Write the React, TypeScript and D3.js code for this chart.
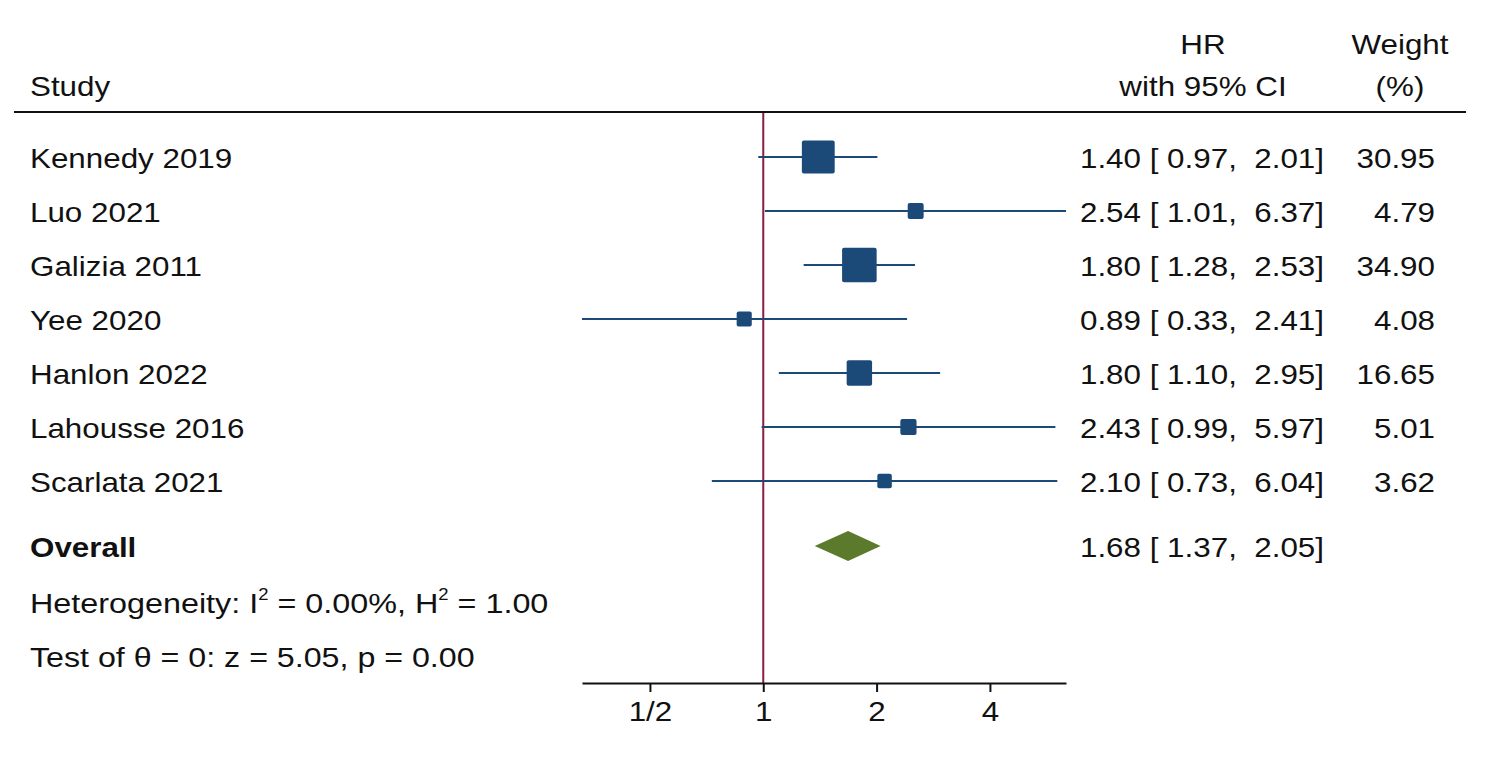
import React, { useRef, useEffect } from "react";
import * as d3 from "d3";

// study rows
const studies = [
  "Kennedy 2019",
  "Luo 2021",
  "Galizia 2011",
  "Yee 2020",
  "Hanlon 2022",
  "Lahousse 2016",
  "Scarlata 2021",
];
const hr = [1.4, 2.54, 1.8, 0.89, 1.8, 2.43, 2.1];
const lower = [0.97, 1.01, 1.28, 0.33, 1.1, 0.99, 0.73];
const upper = [2.01, 6.37, 2.53, 2.41, 2.95, 5.97, 6.04];
const weights = [30.95, 4.79, 34.9, 4.08, 16.65, 5.01, 3.62];

// pooled estimate
const overall = [1.68, 1.37, 2.05];

const tickValues = [0.5, 1, 2, 4];
const tickLabels = ["1/2", "1", "2", "4"];

const FONT = "'Liberation Sans', Arial, sans-serif";
const BLUE = "#1b4a78";
const GREEN = "#5b7a2b";
const RED = "#8c1c46";
const SX = 1.12; // the source image is a bit wider than tall

const fmt = d3.format(".2f");
const ciText = (h: number, lo: number, hi: number) =>
  `${fmt(h)} [ ${fmt(lo)},  ${fmt(hi)}]`;

const App = () => {
  const ref = useRef<SVGSVGElement>(null);

  useEffect(() => {
    const width = 1488;
    const height = 765;
    const svg = d3.select(ref.current);
    svg.selectAll("*").remove();
    svg.attr("width", width).attr("height", height);

    svg.append("rect").attr("width", width).attr("height", height).attr("fill", "#fff");

    const x = d3.scaleLog().domain([0.33, 6.37]).range([582, 1066]);
    const y = d3.scaleLinear().domain([0, studies.length - 1]).range([157, 481]);
    const size = d3.scaleSqrt().domain([0, 35]).range([5, 34.6]);

    const overallY = 546;
    const axisY = 683;
    const hrRight = 1324;
    const wRight = 1435;

    // text placed at (tx, ty), stretched horizontally
    const addText = (g: any, tx: number, ty: number, anchor = "start", sx = SX) =>
      g
        .append("text")
        .attr("transform", `translate(${tx},${ty}) scale(${sx},1)`)
        .attr("text-anchor", anchor)
        .style("font-family", FONT)
        .style("font-size", "28px")
        .style("white-space", "pre")
        .attr("fill", "#111");

    // headers
    addText(svg, 30, 96).text("Study");
    addText(svg, 1203, 54, "middle").text("HR");
    addText(svg, 1203, 96, "middle").text("with 95% CI");
    addText(svg, 1400, 54, "middle").text("Weight");
    addText(svg, 1400, 96, "middle").text("(%)");

    svg
      .append("line")
      .attr("x1", 14)
      .attr("x2", 1466)
      .attr("y1", 112)
      .attr("y2", 112)
      .attr("stroke", "#111")
      .attr("stroke-width", 2);

    // reference line at HR = 1
    svg
      .append("line")
      .attr("x1", x(1))
      .attr("x2", x(1))
      .attr("y1", 113)
      .attr("y2", axisY)
      .attr("stroke", RED)
      .attr("stroke-width", 2);

    studies.forEach((name, i) => {
      const g = svg.append("g").attr("transform", `translate(0, ${y(i)})`);
      const s = size(weights[i]);

      addText(g, 30, 11).text(name);

      g.append("line")
        .attr("x1", x(lower[i]))
        .attr("x2", x(upper[i]))
        .attr("stroke", BLUE)
        .attr("stroke-width", 2);

      g.append("rect")
        .attr("x", x(hr[i]) - s / 2)
        .attr("y", -s / 2)
        .attr("width", s)
        .attr("height", s)
        .attr("rx", 2)
        .attr("fill", BLUE);

      addText(g, hrRight, 11, "end").text(ciText(hr[i], lower[i], upper[i]));
      addText(g, wRight, 11, "end").text(fmt(weights[i]));
    });

    // overall
    addText(svg, 30, overallY + 11).style("font-weight", "bold").text("Overall");

    const [oh, olo, ohi] = overall;
    svg
      .append("path")
      .attr(
        "d",
        d3.line()([
          [x(olo), overallY],
          [x(oh), overallY - 15],
          [x(ohi), overallY],
          [x(oh), overallY + 15],
        ]) + "Z"
      )
      .attr("fill", GREEN);

    addText(svg, hrRight, overallY + 11, "end").text(ciText(oh, olo, ohi));

    // heterogeneity
    const het = addText(svg, 30, 613, "start", 1.155);
    het.append("tspan").text("Heterogeneity: I");
    het.append("tspan").attr("dy", -13).style("font-size", "16px").text("2");
    het.append("tspan").attr("dy", 13).text(" = 0.00%, H");
    het.append("tspan").attr("dy", -13).style("font-size", "16px").text("2");
    het.append("tspan").attr("dy", 13).text(" = 1.00");

    addText(svg, 30, 667, "start", 1.15).text("Test of θ = 0: z = 5.05, p = 0.00");

    // x axis
    const axis = d3
      .axisBottom(x)
      .tickValues(tickValues)
      .tickFormat((d, i) => tickLabels[i])
      .tickSizeInner(9)
      .tickSizeOuter(0)
      .tickPadding(9);

    const ax = svg.append("g").attr("transform", `translate(0, ${axisY})`).call(axis);
    ax.select(".domain").attr("stroke", "#111").attr("stroke-width", 2);
    ax.selectAll(".tick line").attr("stroke", "#111").attr("stroke-width", 2);
    ax.selectAll(".tick text")
      .attr("transform", `scale(${SX},1)`)
      .style("font-family", FONT)
      .style("font-size", "28px")
      .attr("fill", "#111");
  }, []);

  return <svg ref={ref} style={{ position: "absolute", left: 0, top: 0 }}></svg>;
};

export default App;
